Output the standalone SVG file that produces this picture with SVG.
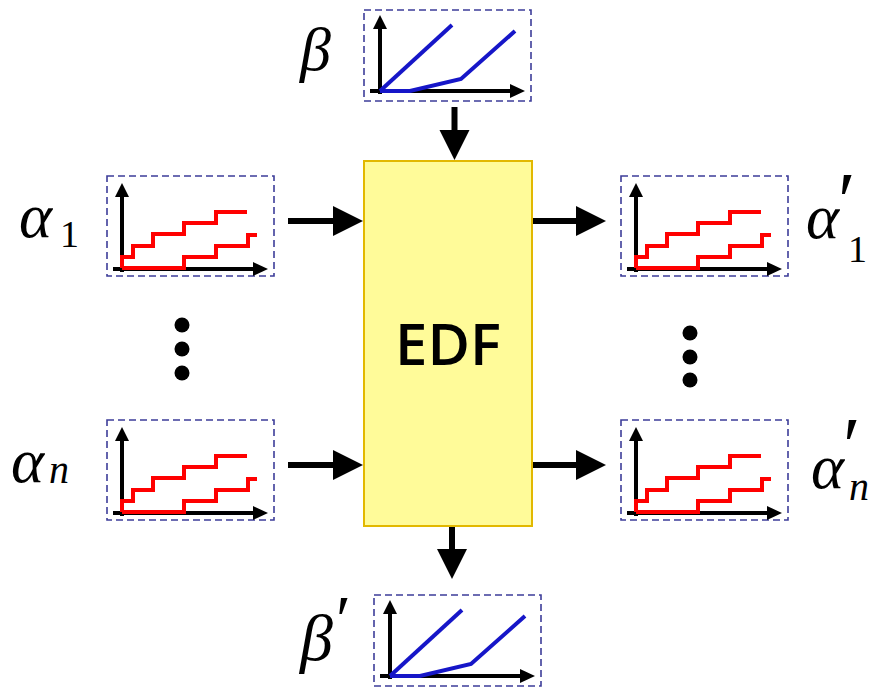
<svg xmlns="http://www.w3.org/2000/svg" xmlns:xlink="http://www.w3.org/1999/xlink" width="887" height="687" viewBox="0 0 887 687">
  <style>
    .frame { fill: none; stroke: #3d3d99; stroke-width: 1.6; stroke-dasharray: 7 4; }
    .axis { stroke: #000; stroke-width: 4; fill: none; }
    .head { fill: #000; }
    .stair { fill: none; stroke: #ff0000; stroke-width: 4; stroke-linejoin: miter; }
    .curve { fill: none; stroke: #1616c8; stroke-width: 4; stroke-linejoin: miter; }
    .block { fill: #fffb99; stroke: #e2b800; stroke-width: 2; }
    .blockText { font-family: "Open Sans", "Noto Sans", sans-serif; font-size: 58px; font-weight: 600; fill: #000; }
    .sym { font-family: "Liberation Serif", "DejaVu Serif", serif; font-style: italic; fill: #000; }
    .num { font-family: "Liberation Serif", "DejaVu Serif", serif; font-style: normal; fill: #000; }
    .wire { stroke: #000; stroke-width: 6; fill: none; }
    .dot { fill: #000; }
  </style>
  <defs>
    <marker id="tip" markerUnits="userSpaceOnUse" markerWidth="31" markerHeight="31" refX="0" refY="15" orient="auto">
      <path d="M0,0 L30,15 L0,30 Z" fill="#000"/>
    </marker>
    <!-- arrival curve chart: two staircases, origin at the axes crossing -->
    <g id="stairChart">
      <rect class="frame" x="-15" y="-93" width="167" height="100"/>
      <line class="axis" x1="0" y1="3" x2="0" y2="-72"/>
      <polygon class="head" points="-7,-72 7,-72 0,-86"/>
      <line class="axis" x1="-9" y1="0" x2="131" y2="0"/>
      <polygon class="head" points="131,-7 131,7 146,0"/>
      <path class="stair" d="M0,-1 V-12 H11 V-23 H31 V-35 H62 V-46 H94 V-57 H125"/>
      <path class="stair" d="M0,-1 H62 V-12 H94 V-23 H126 V-34 H135"/>
    </g>
    <!-- service curve chart: upper and lower bounds -->
    <g id="rateChart">
      <rect class="frame" x="-16" y="-81" width="167" height="91"/>
      <line class="axis" x1="0" y1="3" x2="0" y2="-62"/>
      <polygon class="head" points="-7,-62 7,-62 0,-76"/>
      <line class="axis" x1="-10" y1="0" x2="130" y2="0"/>
      <polygon class="head" points="130,-7 130,7 145,0"/>
      <path class="curve" d="M0,0 L72,-66"/>
      <path class="curve" d="M0,0 L30,0 L81,-12 L135,-60"/>
    </g>
  </defs>

  <rect width="887" height="687" fill="#fff"/>

  <g id="connectors">
    <line class="wire" x1="454.5" y1="107" x2="454.5" y2="130" marker-end="url(#tip)"/>
    <line class="wire" x1="288" y1="221" x2="333" y2="221" marker-end="url(#tip)"/>
    <line class="wire" x1="288" y1="465" x2="333" y2="465" marker-end="url(#tip)"/>
    <line class="wire" x1="531" y1="221" x2="576" y2="221" marker-end="url(#tip)"/>
    <line class="wire" x1="531" y1="465" x2="576" y2="465" marker-end="url(#tip)"/>
    <line class="wire" x1="452" y1="526" x2="452" y2="549" marker-end="url(#tip)"/>
  </g>

  <g id="edf">
    <rect class="block" x="364" y="161" width="168" height="365"/>
    <text class="blockText" x="448" y="365" text-anchor="middle">EDF</text>
  </g>

  <g id="beta">
    <use xlink:href="#rateChart" transform="translate(380,91)"/>
    <text class="sym" x="300" y="70" font-size="62">β</text>
  </g>

  <g id="alpha1">
    <use xlink:href="#stairChart" transform="translate(122,269)"/>
    <text class="sym" x="19" y="237" font-size="63">α<tspan class="num" x="60" y="247" font-size="38">1</tspan></text>
  </g>

  <g id="alphaN">
    <use xlink:href="#stairChart" transform="translate(122,513)"/>
    <text class="sym" x="11" y="482" font-size="63">α<tspan x="49" y="483" font-size="40">n</tspan></text>
  </g>

  <g id="alpha1Out">
    <use xlink:href="#stairChart" transform="translate(636,269)"/>
    <text class="sym" x="806" y="238" font-size="63">α<tspan class="num" x="838" y="228" font-size="80">′</tspan><tspan class="num" x="848" y="262" font-size="38">1</tspan></text>
  </g>

  <g id="alphaNOut">
    <use xlink:href="#stairChart" transform="translate(636,513)"/>
    <text class="sym" x="811" y="488" font-size="63">α<tspan class="num" x="843" y="473" font-size="80">′</tspan><tspan x="849" y="500" font-size="40">n</tspan></text>
  </g>

  <g id="betaOut">
    <use xlink:href="#rateChart" transform="translate(390,676)"/>
    <text class="sym" x="300" y="660" font-size="66">β<tspan class="num" x="336" y="642" font-size="68">′</tspan></text>
  </g>

  <g id="ellipsisIn">
    <circle class="dot" cx="182" cy="325" r="7.5"/>
    <circle class="dot" cx="182" cy="349" r="7.5"/>
    <circle class="dot" cx="182" cy="373" r="7.5"/>
  </g>

  <g id="ellipsisOut">
    <circle class="dot" cx="690" cy="333" r="7.5"/>
    <circle class="dot" cx="690" cy="357" r="7.5"/>
    <circle class="dot" cx="690" cy="380" r="7.5"/>
  </g>
</svg>
